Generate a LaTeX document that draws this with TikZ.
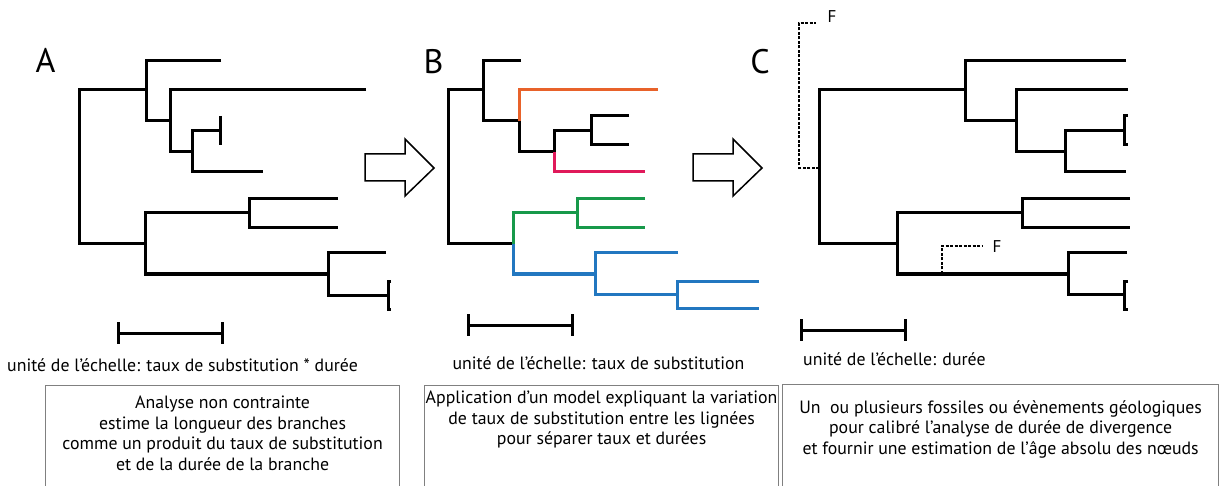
\documentclass[tikz,border=0pt]{standalone}
\usepackage{fontspec}
\setmainfont{PT Sans}
\usepackage{xcolor}
\usetikzlibrary{positioning}

\definecolor{lineorange}{HTML}{E8622A}
\definecolor{linepink}{HTML}{E0195A}
\definecolor{linegreen}{HTML}{17994A}
\definecolor{lineblue}{HTML}{2277C0}
\definecolor{boxgray}{HTML}{808080}

\begin{document}
\begin{tikzpicture}[x=1pt,y=-1pt,
    branch/.style={line width=3pt},
    fossil/.style={line width=2pt,dash pattern=on 3pt off 1.5pt},
    scalebar/.style={line width=3pt},
    blockarrow/.style={draw,line width=1.5pt,fill=white,line join=miter},
    panel/.style={font=\fontsize{34}{34}\selectfont,inner sep=0pt},
    flabel/.style={font=\fontsize{17}{17}\selectfont,inner sep=0pt},
    caption/.style={font=\fontsize{17.8}{21}\selectfont,inner sep=0pt},
    box/.style={draw=boxgray,line width=1.2pt,minimum height=130pt,anchor=north west,inner sep=0pt},
    boxtext/.style={font=\fontsize{17.8}{20.5}\selectfont,align=center,inner sep=0pt,anchor=north},
  ]
  \clip (0,0) rectangle (1220,486);

  % panel letters
  \node[panel] (labA) at (45.5,60.5) {A};
  \node[panel] (labB) at (433.5,62) {B};
  \node[panel] (labC) at (760,62) {C};

  % tree A
  \draw[branch] (146,90) -| (79,244) -- (145,244);
  \draw[branch] (221,61) -| (146,121) -- (170,121);
  \draw[branch] (366,90) -| (170,152) -- (192,152);
  \draw[branch] (220,131) -| (192,172) -- (263,172);
  \draw[branch] (220,116) -- (220,145);
  \draw[branch] (249,213) -| (145,274) -- (328,274);
  \draw[branch] (338,199) -| (249,228) -- (338,228);
  \draw[branch] (386,253) -| (328,295) -- (388,295);
  \draw[branch] (391,281) -- (388,281) -- (388,309) -- (391,309);

  % tree B
  \draw[branch] (483,90) -| (448,244) -- (513,244);
  \draw[branch] (521,61) -| (483,121) -- (519,121);
  \draw[branch] (519,121) -- (519,152) -- (554,152);
  \draw[branch] (554,152) -- (554,131) -- (591,131);
  \draw[branch] (629,116) -| (591,145) -- (629,145);
  \draw[branch,lineorange] (519,121) |- (658,90);
  \draw[branch,linepink] (554,152) |- (645,172);
  \draw[branch,linegreen] (513,244) |- (577,213);
  \draw[branch,linegreen] (645,199) -| (577,228) -- (645,228);
  \draw[branch,lineblue] (513,244) |- (595,274);
  \draw[branch,lineblue] (678,253) -| (595,294) -- (677,294);
  \draw[branch,lineblue] (759,281) -| (677,308) -- (759,308);

  % tree C
  \draw[branch] (965,90) -| (819,244) -- (897,244);
  \draw[branch] (1126,61) -| (965,121) -- (1016,121);
  \draw[branch] (1128,90) -| (1016,152) -- (1065,152);
  \draw[branch] (1124,131) -| (1065,172) -- (1126,172);
  \draw[branch] (1128,116) -- (1124,116) -- (1124,145) -- (1128,145);
  \draw[branch] (1022,213) -| (897,274) -- (1068,274);
  \draw[branch] (1130,199) -| (1022,228) -- (1130,228);
  \draw[branch] (1127,253) -| (1068,294) -- (1124,294);
  \draw[branch] (1128,281) -- (1124,281) -- (1124,309) -- (1128,309);

  % fossil calibrations
  \node[flabel] (fosA) at (832,17) {F};
  \node[flabel] (fosB) at (997,247) {F};
  \draw[fossil] (819,168) -| (799,23) -- ([xshift=-11pt]fosA.west |- 0,23);
  \draw[fossil] (942,274) |- ([xshift=-10pt]fosB.west |- 0,246);

  % big arrows
  \foreach \ax in {365,693}
    \draw[blockarrow] (\ax,154) -- ++(40,0) -- ++(0,-15) -- ++(29,29)
      -- ++(-29,28) -- ++(0,-15) -- ++(-40,0) -- cycle;

  % scale bars
  \foreach \sx/\sy in {118/333,468/325,801/330}
    \draw[scalebar] (\sx,\sy-11) -- (\sx,\sy+11) (\sx,\sy) -- (\sx+104,\sy)
      (\sx+104,\sy-11) -- (\sx+104,\sy+11);

  \node[caption] (capA) at (182.5,365) {unité de l’échelle: taux de substitution * durée};
  \node[caption] (capB) at (598.5,363) {unité de l’échelle: taux de substitution};
  \node[caption,anchor=west] (capC) at (803,359) {unité de l’échelle: durée};

  % boxes
  \node[box,minimum width=354pt] (boxA) at (45,385) {};
  \node[box,minimum width=354pt] (boxB) at (424,385) {};
  \node[box,minimum width=436pt] (boxC) at (782,384) {};
  \node[boxtext,below=11pt of boxA.north] (txtA) {Analyse non contrainte\\estime la longueur des branches\\comme un produit du taux de substitution\\et de la durée de la branche};
  \node[boxtext,below=6pt of boxB.north] (txtB) {Application d’un model expliquant la variation\\de taux de substitution entre les lignées\\pour séparer taux et durées};
  \node[boxtext,below=16pt of boxC.north] (txtC) {Un\ \ ou plusieurs fossiles ou évènements géologiques\\pour calibré l’analyse de durée de divergence\\et fournir une estimation de l’âge absolu des nœuds};
\end{tikzpicture}
\end{document}
